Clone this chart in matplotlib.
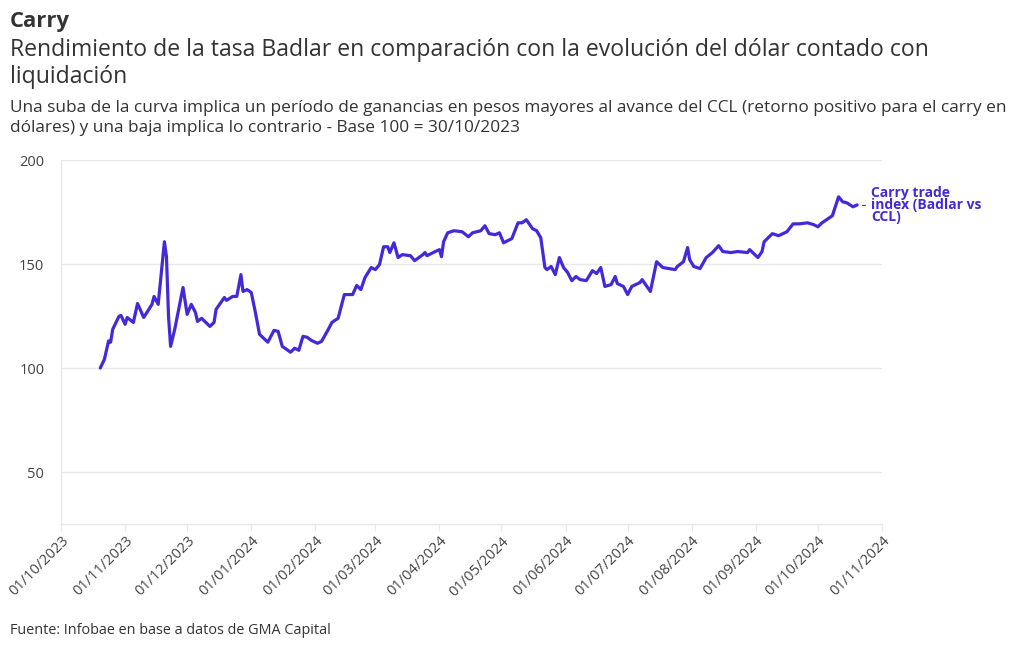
import matplotlib
matplotlib.use("Agg")
import matplotlib.pyplot as plt
import matplotlib.dates as mdates
import pandas as pd

plt.rcParams['font.family'] = ['Open Sans', 'DejaVu Sans']

dates = [
    "2023-10-20", "2023-10-22", "2023-10-24", "2023-10-25", "2023-10-26", "2023-10-29", "2023-10-30",
    "2023-11-01", "2023-11-02", "2023-11-05", "2023-11-07", "2023-11-10", "2023-11-14", "2023-11-15",
    "2023-11-17", "2023-11-19", "2023-11-20", "2023-11-21", "2023-11-22", "2023-11-23", "2023-11-25",
    "2023-11-29", "2023-12-01", "2023-12-03", "2023-12-05", "2023-12-06", "2023-12-08", "2023-12-12",
    "2023-12-14", "2023-12-15", "2023-12-19", "2023-12-20", "2023-12-23", "2023-12-25", "2023-12-27",
    "2023-12-28", "2023-12-30", "2024-01-01", "2024-01-03", "2024-01-05", "2024-01-09", "2024-01-12",
    "2024-01-14", "2024-01-16", "2024-01-20", "2024-01-22", "2024-01-24", "2024-01-26", "2024-01-28",
    "2024-01-30", "2024-02-02", "2024-02-04", "2024-02-07", "2024-02-09", "2024-02-12", "2024-02-15",
    "2024-02-19", "2024-02-21", "2024-02-23", "2024-02-25", "2024-02-28", "2024-03-01", "2024-03-03",
    "2024-03-05", "2024-03-07", "2024-03-08", "2024-03-10", "2024-03-12", "2024-03-14", "2024-03-18",
    "2024-03-20", "2024-03-24", "2024-03-25", "2024-03-26", "2024-03-30", "2024-04-01", "2024-04-02",
    "2024-04-03", "2024-04-05", "2024-04-08", "2024-04-12", "2024-04-15", "2024-04-17", "2024-04-21",
    "2024-04-23", "2024-04-25", "2024-04-28", "2024-04-30", "2024-05-02", "2024-05-06", "2024-05-09",
    "2024-05-11", "2024-05-13", "2024-05-16", "2024-05-18", "2024-05-20", "2024-05-22", "2024-05-23",
    "2024-05-25", "2024-05-27", "2024-05-29", "2024-05-31", "2024-06-02", "2024-06-04", "2024-06-06",
    "2024-06-08", "2024-06-11", "2024-06-14", "2024-06-16", "2024-06-18", "2024-06-20", "2024-06-23",
    "2024-06-25", "2024-06-26", "2024-06-29", "2024-07-01", "2024-07-03", "2024-07-07", "2024-07-08",
    "2024-07-12", "2024-07-15", "2024-07-18", "2024-07-24", "2024-07-25", "2024-07-28", "2024-07-30",
    "2024-07-31", "2024-08-02", "2024-08-05", "2024-08-08", "2024-08-11", "2024-08-14", "2024-08-16",
    "2024-08-20", "2024-08-23", "2024-08-28", "2024-08-29", "2024-09-02", "2024-09-04", "2024-09-05",
    "2024-09-09", "2024-09-12", "2024-09-16", "2024-09-19", "2024-09-22", "2024-09-26", "2024-09-29",
    "2024-10-01", "2024-10-03", "2024-10-08", "2024-10-11", "2024-10-13", "2024-10-15", "2024-10-18",
    "2024-10-20",
]
carry_index = [
    100.0, 104.2, 113.0, 112.4, 118.6, 124.8, 125.3,
    121.0, 124.3, 121.9, 131.0, 124.3, 130.6, 134.4,
    130.6, 150.7, 160.7, 153.5, 124.8, 110.4, 118.6,
    138.7, 125.8, 130.6, 126.7, 122.4, 123.9, 120.0,
    121.9, 128.2, 133.9, 132.5, 134.4, 134.4, 144.9,
    136.8, 137.7, 136.3, 126.7, 116.2, 112.4, 118.1,
    117.6, 110.4, 107.6, 109.5, 108.5, 115.2, 114.8,
    113.3, 111.9, 112.8, 118.1, 121.9, 123.9, 135.3,
    135.3, 139.7, 137.7, 143.5, 148.3, 147.3, 149.7,
    158.3, 158.3, 155.5, 160.2, 153.1, 154.5, 154.0,
    151.6, 154.5, 155.5, 154.0, 156.0, 156.9, 153.5,
    160.7, 165.0, 166.0, 165.5, 163.1, 165.0, 166.0,
    168.4, 164.6, 164.1, 165.0, 160.2, 162.2, 169.8,
    169.8, 171.3, 167.0, 166.0, 162.6, 148.3, 147.3,
    148.8, 144.9, 153.1, 148.3, 145.9, 142.0, 144.0,
    142.5, 142.0, 146.8, 145.4, 148.3, 139.2, 140.1,
    144.0, 140.6, 139.2, 135.3, 139.2, 141.1, 142.5,
    136.8, 151.1, 148.3, 147.3, 148.8, 151.1, 157.9,
    152.1, 148.8, 147.8, 153.1, 155.5, 158.8, 156.0,
    155.5, 156.0, 155.5, 156.9, 153.1, 156.0, 160.7,
    164.6, 163.6, 165.5, 169.3, 169.3, 169.8, 168.9,
    167.9, 169.8, 173.2, 182.3, 179.9, 179.4, 177.5,
    178.4,
]
y_ticks = [50, 100, 150, 200]
x_ticks = pd.date_range("2023-10-01", "2024-11-01", freq="MS")
series_label = "Carry trade\nindex (Badlar vs\nCCL)"

line_color = "#4329d8"
text_dark = "#333333"
grid_color = "#e8e8e8"

x = pd.to_datetime(dates)

fig = plt.figure(figsize=(10.2, 6.5), dpi=100)
ax = fig.add_axes([61/1020, 1-524/650, (882-61)/1020, (524-160)/650])

ax.plot(x, carry_index, color=line_color, lw=2.3, solid_joinstyle='round', solid_capstyle='round')

ax.set_xlim(x_ticks[0], x_ticks[-1])
ax.set_ylim(25, 200)
ax.set_yticks(y_ticks)
ax.yaxis.grid(True, color=grid_color, lw=1)
ax.set_axisbelow(True)
ax.tick_params(axis='y', length=0, labelsize=10.5, labelcolor="#444444", pad=12)
for lbl in ax.get_yticklabels():
    lbl.set_horizontalalignment('right')

ax.set_xticks(x_ticks)
ax.xaxis.set_major_formatter(mdates.DateFormatter("%d/%m/%Y"))
ax.tick_params(axis='x', length=5, color=grid_color, labelsize=10.5, labelcolor="#444444", pad=2)
for lbl in ax.get_xticklabels():
    lbl.set_rotation(45)
    lbl.set_horizontalalignment('right')
    lbl.set_verticalalignment('top')
    lbl.set_rotation_mode('anchor')

for s in ['top', 'right']:
    ax.spines[s].set_visible(False)
for s in ['left', 'bottom']:
    ax.spines[s].set_color(grid_color)
    ax.spines[s].set_linewidth(1)

# end label
last_x = x[-1]
last_y = carry_index[-1]
ax.annotate(series_label, xy=(last_x, last_y), xycoords='data',
            xytext=(10, 0), textcoords='offset points',
            color=line_color, fontsize=10, fontweight='bold',
            ha='left', va='center', linespacing=0.8, annotation_clip=False)
ax.plot([last_x + pd.Timedelta(days=2.5), last_x + pd.Timedelta(days=4.0)], [last_y, last_y],
        color=line_color, lw=0.7, clip_on=False)

fig.text(10/1020, 1-22/650, "Carry", fontsize=15.8, fontweight='bold', color=text_dark, va='center', ha='left')
fig.text(10/1020, 1-50/650, "Rendimiento de la tasa Badlar en comparación con la evolución del dólar contado con",
         fontsize=16.6, color=text_dark, va='center', ha='left')
fig.text(10/1020, 1-77/650, "liquidación", fontsize=16.6, color=text_dark, va='center', ha='left')
fig.text(10/1020, 1-108/650, "Una suba de la curva implica un período de ganancias en pesos mayores al avance del CCL (retorno positivo para el carry en",
         fontsize=12.45, color=text_dark, va='center', ha='left')
fig.text(10/1020, 1-128/650, "dólares) y una baja implica lo contrario - Base 100 = 30/10/2023",
         fontsize=12.45, color=text_dark, va='center', ha='left')
fig.text(10/1020, 1-631/650, "Fuente: Infobae en base a datos de GMA Capital",
         fontsize=10.4, color=text_dark, va='center', ha='left')

fig.savefig("out.png", dpi=100, facecolor='white')
